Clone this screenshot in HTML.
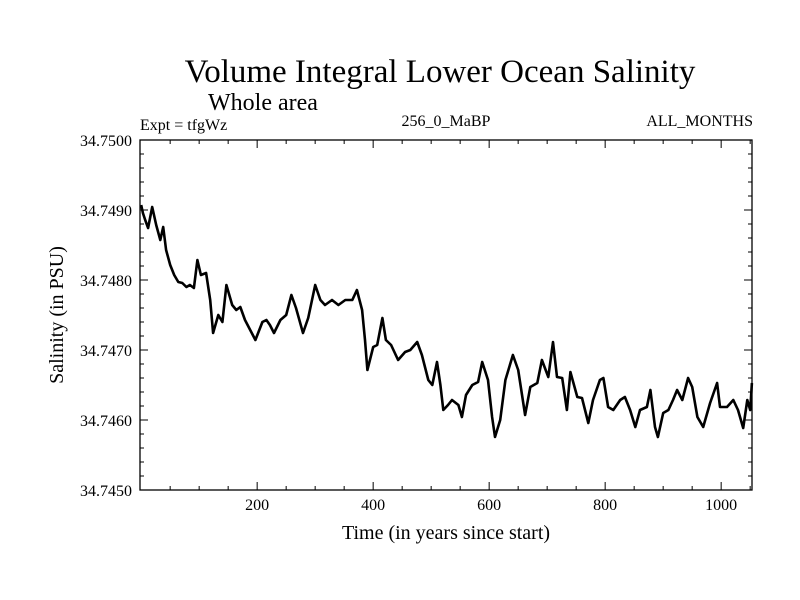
<!DOCTYPE html>
<html><head><meta charset="utf-8"><style>
html,body{margin:0;padding:0;background:#fff;}
svg{display:block;font-family:"Liberation Serif",serif;}
</style></head><body>
<svg id="chart" width="800" height="600" viewBox="0 0 800 600">
<text x="440" y="82" font-size="33" text-anchor="middle">Volume Integral Lower Ocean Salinity</text>
<text x="263" y="110" font-size="24" text-anchor="middle">Whole area</text>
<text x="140" y="130" font-size="16">Expt = tfgWz</text>
<text x="446" y="126" font-size="16" text-anchor="middle">256_0_MaBP</text>
<text x="753" y="126" font-size="16" text-anchor="end">ALL_MONTHS</text>
<text x="446" y="539" font-size="20" text-anchor="middle">Time (in years since start)</text>
<text transform="translate(63,315) rotate(-90)" font-size="20" text-anchor="middle">Salinity (in PSU)</text>
<g id="axes"></g>
<g id="series"></g>
</svg>
<script>
const years=[0,3,7,12,19,26,33,38,43,50,57,64,71,78,84,91,97,103,112,119,124,133,140,147,157,164,171,179,188,197,209,216,222,229,240,250,259,267,279,288,300,309,317,329,340,352,364,372,381,386,390,400,407,416,422,431,443,455,464,476,484,495,502,510,516,521,529,536,547,553,560,571,581,588,598,605,610,619,628,641,650,662,671,683,691,702,710,717,726,734,740,752,760,771,779,791,797,805,814,826,834,843,852,860,872,878,886,891,900,909,917,924,933,943,950,959,969,981,993,998,1010,1021,1029,1038,1045,1050,1053];
const salinity=[34.749071,34.748957,34.748857,34.748743,34.749043,34.748786,34.748571,34.748757,34.748429,34.748214,34.748071,34.747971,34.747957,34.747900,34.747929,34.747886,34.748286,34.748071,34.748100,34.747714,34.747243,34.747500,34.747400,34.747929,34.747643,34.747571,34.747614,34.747429,34.747286,34.747143,34.747400,34.747429,34.747357,34.747243,34.747429,34.747500,34.747786,34.747600,34.747243,34.747457,34.747929,34.747714,34.747643,34.747714,34.747643,34.747714,34.747714,34.747857,34.747571,34.747143,34.746714,34.747043,34.747071,34.747457,34.747143,34.747071,34.746857,34.746971,34.747000,34.747114,34.746929,34.746571,34.746500,34.746829,34.746500,34.746143,34.746214,34.746286,34.746214,34.746043,34.746357,34.746500,34.746543,34.746829,34.746571,34.746043,34.745757,34.746000,34.746571,34.746929,34.746714,34.746071,34.746471,34.746529,34.746857,34.746614,34.747114,34.746614,34.746600,34.746143,34.746686,34.746329,34.746314,34.745957,34.746286,34.746571,34.746600,34.746186,34.746143,34.746286,34.746329,34.746143,34.745900,34.746143,34.746186,34.746429,34.745900,34.745757,34.746100,34.746143,34.746286,34.746429,34.746286,34.746600,34.746471,34.746043,34.745900,34.746243,34.746529,34.746186,34.746186,34.746286,34.746143,34.745886,34.746286,34.746143,34.746529];
const xTickLabels=[200,400,600,800,1000];
const yTickLabels=["34.7450","34.7460","34.7470","34.7480","34.7490","34.7500"];

const L=140,R=752,T=140,B=490;
const XMIN=-2,XMAX=(R-L)/0.58-2,YMIN=34.745,YMAX=34.750;
const xs=v=>L+(v-XMIN)/(XMAX-XMIN)*(R-L);
const ys=v=>B-(v-YMIN)/(YMAX-YMIN)*(B-T);
const NS="http://www.w3.org/2000/svg";
const axes=document.getElementById('axes');
function mk(tag,attrs,parent){const e=document.createElementNS(NS,tag);for(const k in attrs)e.setAttribute(k,attrs[k]);parent.appendChild(e);return e;}

const frame=mk('rect',{x:L,y:T,width:R-L,height:B-T,fill:'none',stroke:'#000','stroke-width':1.3},axes);



for(let v=50;v<XMAX;v+=50){
  const x=xs(v),len=(v%200===0)?8:4;
  const t1=mk('line',{x1:x,x2:x,y1:B,y2:B-len,stroke:'#000','stroke-width':1},axes);
  
  
  const t2=mk('line',{x1:x,x2:x,y1:T,y2:T+len,stroke:'#000','stroke-width':1},axes);
  
  
}
xTickLabels.forEach(v=>{
  const t=mk('text',{x:xs(v),y:B+20,'font-size':16,'text-anchor':'middle'},axes);
  t.textContent=v;
  
  
});
for(let i=1;i<25;i++){
  const v=YMIN+i*0.0002,y=ys(v),len=(i%5===0)?8:4;
  const t1=mk('line',{x1:L,x2:L+len,y1:y,y2:y,stroke:'#000','stroke-width':1},axes);
  
  
  const t2=mk('line',{x1:R,x2:R-len,y1:y,y2:y,stroke:'#000','stroke-width':1},axes);
  
  
}
yTickLabels.forEach(s=>{
  const t=mk('text',{x:L-8,y:ys(parseFloat(s))+6,'font-size':16,'text-anchor':'end'},axes);
  t.textContent=s;
  
  
});
let d='';
years.forEach((yr,i)=>{d+=(i?'L':'M')+xs(yr).toFixed(1)+','+ys(salinity[i]).toFixed(1);});
const line=mk('path',{d:d,fill:'none',stroke:'#000','stroke-width':2.6,'stroke-linejoin':'round'},document.getElementById('series'));


</script>
</body></html>
